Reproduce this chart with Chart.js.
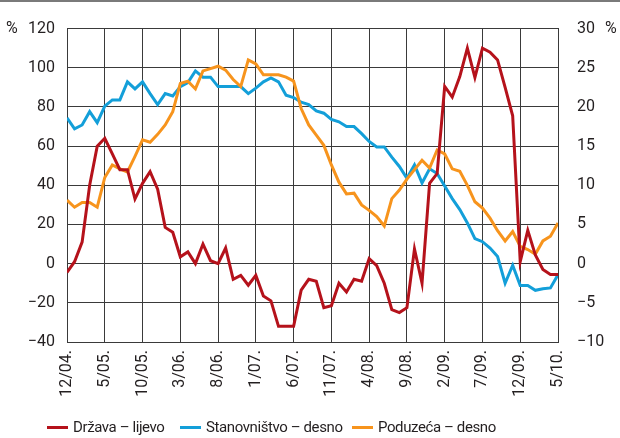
<!DOCTYPE html>
<html>
<head>
<meta charset="utf-8">
<script src="https://cdn.jsdelivr.net/npm/chart.js@4.4.1/dist/chart.umd.min.js"></script>
<style>
  html, body { margin: 0; padding: 0; background: #fff; }
  #wrap { position: relative; width: 620px; height: 438px; overflow: hidden; }
  #topRule { position: absolute; left: 0; top: 0; width: 620px; height: 2px; background: #7a7a7a; }
  #legend { position: absolute; top: 416px; left: 0; width: 620px; height: 22px;
            font-family: 'Liberation Sans Narrow', 'Arial Narrow', Roboto, sans-serif;
            font-size: 15px; letter-spacing: -0.4px; color: #231f20; }
  .item { position: absolute; top: 0; display: flex; align-items: center; height: 22px; white-space: nowrap; }
  .swatch { display: inline-block; width: 21px; height: 3px; margin-right: 5px; }
</style>
</head>
<body>
<div id="wrap">
  <canvas id="chart" width="620" height="438"></canvas>
  <div id="topRule"></div>
  <div id="legend"></div>
</div>
<script>
// Monthly data, 12/04. to 5/10. (66 months)
const tickLabels = ['12/04.', '5/05.', '10/05.', '3/06.', '8/06.', '1/07.', '6/07.',
                    '11/07.', '4/08.', '9/08.', '2/09.', '7/09.', '12/09.', '5/10.'];

// Država - left axis
const drzava = [-4.5, 1, 11, 40, 60, 64, 56, 48, 48, 33, 41, 47, 38, 18.5, 16, 3.5,
                6, 0, 10, 1.5, 0, 8, -8, -6, -11, -6, -16.5, -19, -32, -32, -32, -13.5,
                -8, -9, -22.5, -21.5, -10, -14.5, -8, -9, 2.5, -1, -10, -23.5, -25, -22.5, 7.5,
                -10, 41, 46, 90.5, 85, 95.5, 110, 95, 110, 108, 104, 90, 75.5, 1, 17,
                4.5, -3, -5.5, -5.5];

// Stanovništvo - right axis
const stanovnistvo = [18.6, 17.2, 17.7, 19.4, 18.0, 20.1, 20.9, 20.9, 23.2, 22.3, 23.2, 21.7,
                      20.3, 21.7, 21.4, 22.6, 23.1, 24.6, 23.8, 23.8, 22.6, 22.6, 22.6, 22.6,
                      21.7, 22.4, 23.2, 23.7, 23.2, 21.5, 21.2, 20.6, 20.3, 19.5, 19.2, 18.4,
                      18.1, 17.5, 17.5, 16.6, 15.6, 14.9, 14.9, 13.6, 12.4, 10.9, 12.6, 10.3,
                      12.1, 11.5, 9.9, 8.3, 6.9, 5.2, 3.2, 2.8, 2.0, 0.9, -2.5, -0.2,
                      -2.8, -2.8, -3.4, -3.2, -3.1, -1.4];

// Poduzeća - right axis
const poduzeca = [8.1, 7.2, 7.8, 7.8, 7.2, 11.0, 12.6, 12.1, 11.7, 13.7, 15.8, 15.5,
                  16.5, 17.7, 19.4, 23.0, 23.3, 22.3, 24.6, 24.9, 25.2, 24.7, 23.5, 22.6,
                  26.0, 25.5, 24.1, 24.1, 24.1, 23.8, 23.3, 19.8, 17.7, 16.4, 15.1, 12.6,
                  10.4, 8.9, 9.0, 7.5, 6.8, 6.0, 4.8, 8.3, 9.4, 10.8, 12.0, 13.2,
                  12.2, 14.5, 14.0, 12.1, 11.8, 10.0, 7.9, 7.1, 5.8, 4.2, 2.9, 4.1,
                  2.2, 1.8, 1.2, 2.9, 3.5, 5.2];

const seriesNames = ['Država – lijevo', 'Stanovništvo – desno', 'Poduzeća – desno'];
const seriesColors = ['#b5121b', '#139fd9', '#f7941d'];

const FONT = "'Liberation Sans Narrow', 'Arial Narrow', Roboto, sans-serif";
const TEXT = '#231f20';
const GRID = '#3a3a3a';

function toPoints(arr) {
    return arr.map((v, i) => ({ x: i, y: v }));
}

function fmtMinus(v) {
    return v < 0 ? '\u2212' + Math.abs(v) : String(v);
}

// "%" unit labels beside the top ticks
const unitLabels = {
    id: 'unitLabels',
    afterDraw(chart) {
        const ctx = chart.ctx;
        const top = chart.chartArea.top;
        ctx.save();
        ctx.font = '16px ' + FONT;
        ctx.fillStyle = TEXT;
        ctx.textBaseline = 'middle';
        ctx.textAlign = 'left';
        ctx.fillText('%', 6, top);
        ctx.fillText('%', 605, top);
        ctx.restore();
    }
};

const ctx = document.getElementById('chart').getContext('2d');
const chart = new Chart(ctx, {
    type: 'line',
    data: {
        datasets: [
            { label: seriesNames[0], data: toPoints(drzava), yAxisID: 'yL',
              borderColor: seriesColors[0], order: 0 },
            { label: seriesNames[1], data: toPoints(stanovnistvo), yAxisID: 'yR',
              borderColor: seriesColors[1], order: 2 },
            { label: seriesNames[2], data: toPoints(poduzeca), yAxisID: 'yR',
              borderColor: seriesColors[2], order: 1 }
        ]
    },
    options: {
        responsive: false,
        animation: false,
        layout: { padding: { top: 17, left: 0, right: 0, bottom: 0 } },
        elements: {
            line: { borderWidth: 3, tension: 0, fill: false, borderJoinStyle: 'miter' },
            point: { radius: 0 }
        },
        plugins: {
            legend: { display: false },
            tooltip: { enabled: false }
        },
        scales: {
            x: {
                type: 'linear',
                min: 0,
                max: 65,
                afterFit: s => { s.height = 438 - 342; },
                afterBuildTicks: s => { s.ticks = tickLabels.map((t, i) => ({ value: i * 5 })); },
                ticks: {
                    stepSize: 5,
                    minRotation: 90,
                    maxRotation: 90,
                    padding: 8,
                    color: TEXT,
                    font: { family: FONT, size: 16 },
                    callback: (v) => tickLabels[Math.round(v / 5)]
                },
                grid: { color: GRID, lineWidth: 1, drawTicks: false },
                border: { color: GRID, width: 1 }
            },
            yL: {
                position: 'left',
                min: -40,
                max: 120,
                afterFit: s => { s.width = 67; },
                ticks: {
                    stepSize: 20,
                    padding: 12,
                    color: TEXT,
                    font: { family: FONT, size: 16 },
                    callback: fmtMinus
                },
                grid: { color: GRID, lineWidth: 1, drawTicks: false },
                border: { color: GRID, width: 1 }
            },
            yR: {
                position: 'right',
                min: -10,
                max: 30,
                afterFit: s => { s.width = 620 - 558; },
                ticks: {
                    stepSize: 5,
                    padding: 19,
                    color: TEXT,
                    font: { family: FONT, size: 16 },
                    callback: fmtMinus
                },
                grid: { display: false, drawTicks: false },
                border: { color: GRID, width: 1 }
            }
        }
    },
    plugins: [unitLabels]
});

// HTML legend under the chart
const legendPos = [47, 180, 352];
const legendEl = document.getElementById('legend');
seriesNames.forEach((name, i) => {
    const item = document.createElement('div');
    item.className = 'item';
    item.style.left = legendPos[i] + 'px';
    const sw = document.createElement('span');
    sw.className = 'swatch';
    sw.style.background = seriesColors[i];
    const txt = document.createElement('span');
    txt.textContent = name;
    item.appendChild(sw);
    item.appendChild(txt);
    legendEl.appendChild(item);
});
</script>
</body>
</html>
